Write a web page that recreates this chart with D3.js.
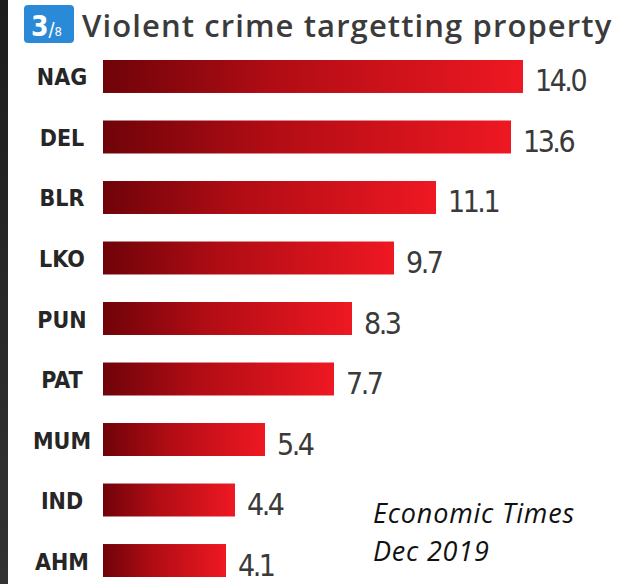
<!DOCTYPE html>
<html>
<head>
<meta charset="utf-8">
<script src="https://cdn.jsdelivr.net/npm/d3@7"></script>
<style>
  html, body { margin: 0; padding: 0; background: #fff; }
  svg { display: block; }
  .title { font-family: "Open Sans", sans-serif; font-weight: 600; fill: #3b3b3b; }
  .cat { font-family: "DejaVu Sans Condensed", "DejaVu Sans", sans-serif; font-weight: bold; fill: #262626; }
  .val { font-family: "DejaVu Sans Condensed", sans-serif; fill: #3a3a3a; }
  .note { font-family: "Open Sans", sans-serif; font-style: italic; fill: #111; }
</style>
</head>
<body>
<div id="chart"></div>
<script>
  /* data */
  const cities = ["NAG", "DEL", "BLR", "LKO", "PUN", "PAT", "MUM", "IND", "AHM"];
  const values = [14.0, 13.6, 11.1, 9.7, 8.3, 7.7, 5.4, 4.4, 4.1];
  const valueLabels = ["14.0", "13.6", "11.1", "9.7", "8.3", "7.7", "5.4", "4.4", "4.1"];
  const titleText = "Violent crime targetting property";
  const noteLines = ["Economic Times", "Dec 2019"];

  const size = { width: 628, height: 584 };

  const svg = d3.select("#chart").append("svg")
    .attr("width", size.width)
    .attr("height", size.height);

  const defs = svg.append("defs");

  const barGrad = defs.append("linearGradient")
    .attr("id", "barGrad")
    .attr("x1", "0%").attr("x2", "100%")
    .attr("y1", "0%").attr("y2", "0%");
  barGrad.append("stop").attr("offset", "0%").attr("stop-color", "#6f0309");
  barGrad.append("stop").attr("offset", "40%").attr("stop-color", "#b00c14");
  barGrad.append("stop").attr("offset", "100%").attr("stop-color", "#ee1822");

  const edgeGrad = defs.append("linearGradient")
    .attr("id", "edgeGrad")
    .attr("x1", "0%").attr("x2", "0%")
    .attr("y1", "0%").attr("y2", "100%");
  edgeGrad.append("stop").attr("offset", "0%").attr("stop-color", "#1d1d1d");
  edgeGrad.append("stop").attr("offset", "100%").attr("stop-color", "#333");

  // dark window edge on the left
  svg.append("rect")
    .attr("x", 0).attr("y", 0)
    .attr("width", 8).attr("height", size.height)
    .attr("fill", "url(#edgeGrad)");

  // title badge
  const badge = svg.append("g").attr("transform", "translate(24,5)");
  badge.append("rect")
    .attr("width", 50).attr("height", 38)
    .attr("rx", 4)
    .attr("fill", "#2b8ad8");
  const badgeText = badge.append("text")
    .attr("x", 7).attr("y", 31)
    .attr("fill", "#fff")
    .style("font-family", "\"DejaVu Sans Condensed\", sans-serif")
    .style("font-weight", "bold");
  badgeText.append("tspan").style("font-size", "28px").text("3");
  badgeText.append("tspan").style("font-size", "20px").style("font-weight", "normal").text("/");
  badgeText.append("tspan").style("font-size", "13px").style("font-weight", "normal").text("8");

  svg.append("text")
    .attr("class", "title")
    .attr("x", 82)
    .attr("y", 37)
    .style("font-size", "31px")
    .style("letter-spacing", "1.1px")
    .text(titleText);

  const xScale = d3.scaleLinear().domain([0, 14]).range([103, 523]);
  const yScale = d3.scaleBand()
    .domain(cities)
    .range([60, 577])
    .paddingInner(0.455)
    .paddingOuter(0);

  const rows = svg.append("g").selectAll("g")
    .data(cities.map((c, i) => ({ city: c, value: values[i], label: valueLabels[i] })))
    .join("g");

  rows.append("rect")
    .attr("x", xScale(0))
    .attr("y", d => yScale(d.city))
    .attr("width", d => xScale(d.value) - xScale(0))
    .attr("height", yScale.bandwidth())
    .attr("fill", "url(#barGrad)");

  rows.append("text")
    .attr("class", "cat")
    .attr("text-anchor", "middle")
    .attr("x", 62)
    .attr("y", d => yScale(d.city) + yScale.bandwidth() / 2 + 9)
    .style("font-size", "23px")
    .text(d => d.city);

  rows.append("text")
    .attr("class", "val")
    .attr("x", d => xScale(d.value) + 12)
    .attr("y", d => yScale(d.city) + yScale.bandwidth() / 2 + 15)
    .style("font-size", "30px")
    .style("letter-spacing", "-2.5px")
    .text(d => d.label);

  svg.append("g").selectAll("text")
    .data(noteLines)
    .join("text")
    .attr("class", "note")
    .attr("x", 373)
    .attr("y", (d, i) => 523 + i * 38)
    .style("font-size", "27px")
    .style("letter-spacing", "0.8px")
    .text(d => d);
</script>
</body>
</html>
